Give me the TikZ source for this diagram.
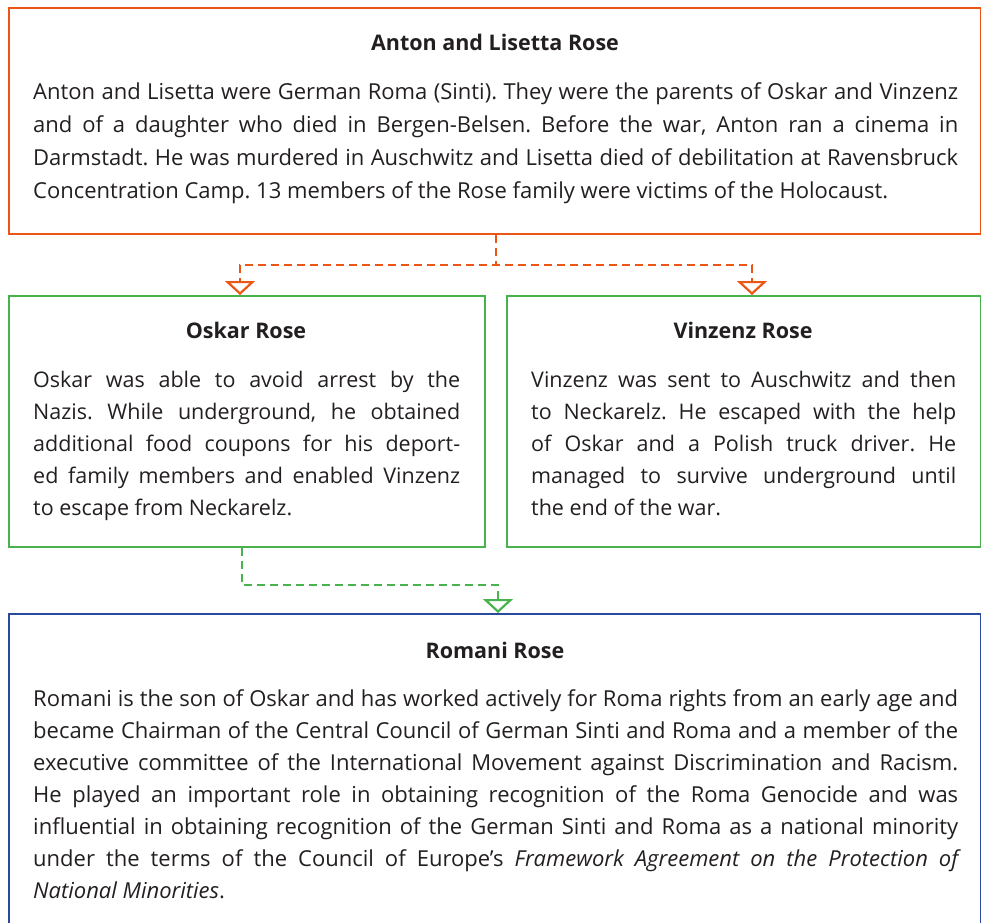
\documentclass[tikz,border=0pt]{standalone}
\usepackage{fontspec}
\setmainfont{Open Sans}
\usetikzlibrary{arrows.meta,calc}
\definecolor{orng}{RGB}{235,86,20}
\definecolor{grn}{RGB}{72,178,76}
\definecolor{blu}{RGB}{42,74,158}
\definecolor{txt}{RGB}{35,31,32}
\frenchspacing
\begin{document}
\begin{tikzpicture}[x=1pt,y=-1pt,
  boxframe/.style={draw, line width=2pt, inner sep=0pt, anchor=north west},
  ttl/.style={font=\fontsize{21.5}{26}\selectfont\bfseries, text=txt, anchor=base, inner sep=0pt},
  bodytxt/.style 2 args={font=\fontsize{#1}{#2}\selectfont, text=txt, align=justify, anchor=north west, inner sep=0pt},
  conn/.style={line width=2.2pt, dash pattern=on 8pt off 5pt, -{Triangle[open, width=30pt, length=14pt, line width=2.2pt]}},
  ]
\clip (0,0) rectangle (981,922);
% boxes
\node[boxframe, draw=orng, minimum width=972pt, minimum height=226pt] (topbox) at (8,7) {};
\node[boxframe, draw=grn, minimum width=476pt, minimum height=251pt] (oskar) at (8,295) {};
\node[boxframe, draw=grn, minimum width=474pt, minimum height=251pt] (vinz) at (506,295) {};
\node[boxframe, draw=blu, minimum width=972pt, minimum height=340pt] (romani) at (8,613) {};
% titles
\node[ttl] (t1) at (495,50) {Anton and Lisetta Rose};
\node[ttl] (t2) at (246,338) {Oskar Rose};
\node[ttl] (t3) at (743,338) {Vinzenz Rose};
\node[ttl] (t4) at (495,658) {Romani Rose};
% bodies
\node[bodytxt={22}{33pt}, text width=925pt] (b1) at (33,82) {\rule{0pt}{16pt}Anton and Lisetta were German Roma (Sinti). They were the parents of Oskar and Vinzenz\linebreak and of a daughter who died in Bergen-Belsen. Before the war, Anton ran a cinema in\linebreak Darmstadt. He was murdered in Auschwitz and Lisetta died of debilitation at Ravensbruck\linebreak Concentration Camp. 13 members of the Rose family were victims of the Holocaust.};
\node[bodytxt={21.5}{32pt}, text width=427pt] (b2) at (33,371) {\rule{0pt}{16pt}Oskar was able to avoid arrest by the\linebreak Nazis. While underground, he obtained\linebreak additional food coupons for his deport-\linebreak ed family members and enabled Vinzenz\linebreak to escape from Neckarelz.};
\node[bodytxt={21.5}{32pt}, text width=425pt] (b3) at (531,371) {\rule{0pt}{16pt}Vinzenz was sent to Auschwitz and then\linebreak to Neckarelz. He escaped with the help\linebreak of Oskar and a Polish truck driver. He\linebreak managed to survive underground until\linebreak the end of the war.};
\node[bodytxt={22}{32pt}, text width=925pt] (b4) at (33,689) {\rule{0pt}{16pt}Romani is the son of Oskar and has worked actively for Roma rights from an early age and\linebreak became Chairman of the Central Council of German Sinti and Roma and a member of the\linebreak executive committee of the International Movement against Discrimination and Racism.\linebreak He played an important role in obtaining recognition of the Roma Genocide and was\linebreak influential in obtaining recognition of the German Sinti and Roma as a national minority\linebreak under the terms of the Council of Europe’s \textit{Framework Agreement on the Protection of\linebreak National Minorities}.};
% connectors
\draw[conn, draw=orng] ([xshift=1pt]topbox.south) -- ++(0,30) -| ([xshift=-7pt]oskar.north);
\draw[conn, draw=orng] ([xshift=1pt]topbox.south) -- ++(0,30) -| ([xshift=8pt]vinz.north);
\draw[conn, draw=grn] ([xshift=-5pt]oskar.south) -- ++(0,37) -| ([xshift=3pt]romani.north);
\end{tikzpicture}
\end{document}
